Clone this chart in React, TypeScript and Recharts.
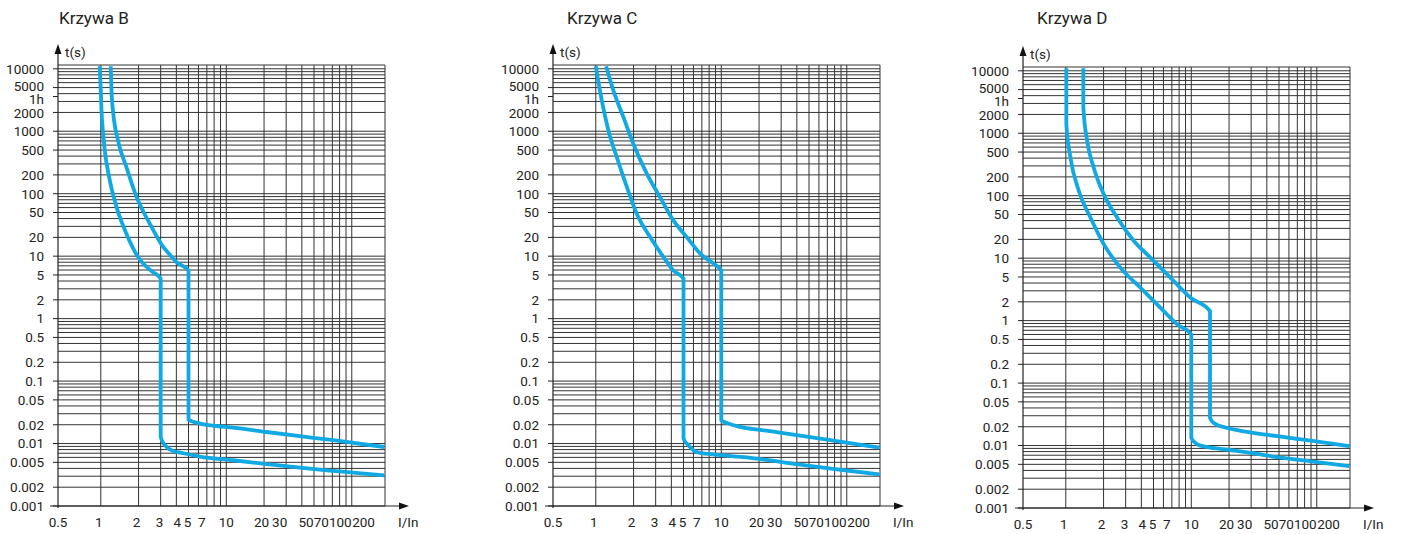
import React from "react";
import { CartesianGrid, Line, LineChart, ReferenceLine, XAxis, YAxis } from "recharts";

// Tripping curves: [I/In, t in seconds]
const B_LOW: number[][] = [
  [0.98, 11000], [1.0, 4500], [1.013, 2150], [1.04, 1000], [1.076, 493], [1.18, 163],
  [1.335, 61], [1.6, 22.9], [1.98, 9.7], [2.55, 5.7], [3.0, 4.4], [3.0, 0.0128],
  [3.24, 0.0094], [3.77, 0.0076], [4.4, 0.0071], [6.16, 0.0062], [11.4, 0.0054],
  [20.9, 0.0047], [38.6, 0.0041], [71.2, 0.00365], [182, 0.0031],
];
const B_HIGH: number[][] = [
  [1.2, 11000], [1.22, 4000], [1.25, 2150], [1.37, 713], [1.6, 267], [1.93, 88], [2.46, 33],
  [3.08, 14.9], [3.6, 10.2], [4.01, 8.05], [5.0, 5.9], [5.0, 0.0242], [6.16, 0.0209], [8.36, 0.0191],
  [11.4, 0.018], [20.9, 0.0153], [38.6, 0.0131], [71.2, 0.0113], [182, 0.0088],
];
const C_LOW: number[][] = [
  [1.0, 11000], [1.116, 3110], [1.26, 1030], [1.47, 385], [1.77, 127.5], [2.12, 47.9],
  [2.71, 20.2], [3.46, 9.7], [4.15, 5.9], [5.0, 4.4], [5.0, 0.012], [5.47, 0.0094],
  [6.38, 0.0073], [8.66, 0.0067], [16.0, 0.006], [29.4, 0.0051], [54.3, 0.0043],
  [100, 0.0037], [182, 0.0032],
];
const C_HIGH: number[][] = [
  [1.21, 11000], [1.38, 4500], [1.66, 1680], [1.99, 631], [2.55, 209], [3.25, 88],
  [4.15, 37.4], [5.31, 20.2], [6.79, 11], [8.66, 7.6], [10, 5.9], [10, 0.0236],
  [11.4, 0.0209], [14.1, 0.0185], [21.7, 0.0163], [40, 0.0136], [73.7, 0.0113], [182, 0.0086],
];
const D_LOW: number[][] = [
  [1.01, 11000], [1.01, 1400], [1.09, 406], [1.27, 119], [1.575, 44.4], [2.01, 16.6],
  [2.73, 7.0], [3.94, 3.36], [5.69, 1.6], [7.73, 0.87], [10, 0.6], [10, 0.0132],
  [11.2, 0.0104], [13.5, 0.0094], [19.4, 0.0086], [29.9, 0.0076], [48.6, 0.0065],
  [89.6, 0.0056], [182, 0.0047],
];
const D_HIGH: number[][] = [
  [1.38, 11000], [1.38, 2570], [1.48, 753], [1.67, 281], [2.01, 105], [2.57, 44.4],
  [3.49, 18.8], [4.74, 10.1], [6.84, 4.85], [9.88, 2.32], [14.1, 1.42], [14.1, 0.0277],
  [15.1, 0.023], [19.4, 0.0191], [26.3, 0.0169], [48.6, 0.0141], [89.6, 0.012], [182, 0.0098],
];

const X_TICKS = [0.5, 1, 2, 3, 4, 5, 7, 10, 20, 30, 50, 70, 100, 200];
const Y_TICKS = [
  10000, 5000, 3600, 2000, 1000, 500, 200, 100, 50, 20, 10, 5, 2, 1,
  0.5, 0.2, 0.1, 0.05, 0.02, 0.01, 0.005, 0.002, 0.001,
];

const X_MIN = 0.456;
const X_MAX = 184;
const Y_MIN = 0.001;
const Y_MAX = 11500;

// grid: every 1..9 x 10^k
const GRID_T: number[] = [];
for (let e = -3; e <= 3; e++) for (let m = 1; m <= 9; m++) GRID_T.push(+(m * Math.pow(10, e)).toPrecision(3));
GRID_T.push(10000, Y_MAX);
const GRID_I: number[] = [];
for (let e = 0; e <= 1; e++) for (let m = 1; m <= 9; m++) GRID_I.push(m * Math.pow(10, e));
GRID_I.push(100, X_MAX);

const BLUE = "#10a9e3";
const INK = "#222";
const FONT = "Roboto, 'Liberation Sans', sans-serif";

// labels in the scan sit a bit off their grid lines
const X_NUDGE: Record<number, number> = {
  0.5: -5, 1: -2, 2: -2, 3: -1, 4: 1, 5: -1, 7: -5, 20: -2.5, 30: -6.5, 50: -8, 70: -11, 100: -11.5, 200: -26,
};
const Y_NUDGE: Record<number, number> = { 5000: -1.5, 3600: 3, 2000: 1 };

const toPoints = (rows: number[][]) => rows.map(([i, t]) => ({ i, t }));

const XTick = (props: any) => {
  const { x, y, payload } = props;
  return (
    <text x={x + (X_NUDGE[payload.value] ?? 0)} y={y + 21} textAnchor="middle" fontSize={13.5} fill={INK} fontFamily={FONT}>
      {payload.value}
    </text>
  );
};

const YTick = (props: any) => {
  const { x, y, payload } = props;
  const v = payload.value;
  return (
    <text x={x} y={y + (Y_NUDGE[v] ?? 0)} dy="0.36em" textAnchor="end" fontSize={13.5} fill={INK} fontFamily={FONT}>
      {v === 3600 ? "1h" : String(v)}
    </text>
  );
};

const XArrow = (p: any) => {
  const a = Math.min(p.x1, p.x2);
  const b = Math.max(p.x1, p.x2);
  const y = p.y1;
  return (
    <g>
      <line x1={a - 8} y1={y} x2={b + 15} y2={y} stroke={INK} strokeWidth={1.2} />
      <polygon points={`${b + 24},${y} ${b + 14},${y - 3.5} ${b + 14},${y + 3.5}`} fill="#111" />
      <text x={b + 13} y={y + 21} fontSize={13.5} fill={INK} fontFamily={FONT}>I/In</text>
    </g>
  );
};

const YArrow = (p: any) => {
  const x = p.x1;
  const top = Math.min(p.y1, p.y2);
  const bot = Math.max(p.y1, p.y2);
  return (
    <g>
      <line x1={x} y1={bot + 2} x2={x} y2={top - 11} stroke={INK} strokeWidth={1.2} />
      <polygon points={`${x},${top - 21} ${x - 3.5},${top - 11} ${x + 3.5},${top - 11}`} fill="#111" />
      <text x={x + 7} y={top - 8} fontSize={13.5} fill={INK} fontFamily={FONT}>t(s)</text>
    </g>
  );
};

function TripChart({ low, high }: { low: number[][]; high: number[][] }) {
  return (
    <LineChart width={450} height={534} margin={{ top: 65, right: 65, bottom: 0, left: 8 }}>
      <CartesianGrid horizontalValues={GRID_T} verticalValues={GRID_I} stroke="#333" strokeWidth={1} />
      <XAxis
        type="number"
        dataKey="i"
        scale="log"
        domain={[X_MIN, X_MAX]}
        allowDataOverflow
        ticks={X_TICKS}
        interval={0}
        axisLine={false}
        tickLine={false}
        tickSize={0}
        tickMargin={0}
        height={28}
        tick={<XTick />}
      />
      <YAxis
        type="number"
        dataKey="t"
        scale="log"
        domain={[Y_MIN, Y_MAX]}
        allowDataOverflow
        ticks={Y_TICKS}
        interval={0}
        axisLine={false}
        tickSize={5}
        tickMargin={9}
        width={50}
        tickLine={{ stroke: INK }}
        tick={<YTick />}
      />
      <Line data={toPoints(low)} dataKey="t" type="monotone" stroke={BLUE} strokeWidth={3.8} dot={false} isAnimationActive={false} strokeLinejoin="round" />
      <Line data={toPoints(high)} dataKey="t" type="monotone" stroke={BLUE} strokeWidth={3.8} dot={false} isAnimationActive={false} strokeLinejoin="round" />
      <ReferenceLine y={Y_MIN} ifOverflow="visible" shape={XArrow} />
      <ReferenceLine x={X_MIN} ifOverflow="visible" shape={YArrow} />
    </LineChart>
  );
}

const PANELS = [
  { title: "Krzywa B", low: B_LOW, high: B_HIGH, left: 0.3, top: 0, titleX: 59 },
  { title: "Krzywa C", low: C_LOW, high: C_HIGH, left: 494.7, top: 0, titleX: 567 },
  { title: "Krzywa D", low: D_LOW, high: D_HIGH, left: 964.7, top: 1.5, titleX: 1037 },
];

export default function App() {
  return (
    <div style={{ position: "absolute", left: 0, top: 0, width: 1401, height: 534, background: "#fff", overflow: "hidden" }}>
      {PANELS.map((p) => (
        <React.Fragment key={p.title}>
          <div style={{ position: "absolute", left: p.titleX, top: 7, fontFamily: FONT, fontSize: 17, lineHeight: "22px", color: INK }}>
            {p.title}
          </div>
          <div style={{ position: "absolute", left: p.left, top: p.top }}>
            <TripChart low={p.low} high={p.high} />
          </div>
        </React.Fragment>
      ))}
    </div>
  );
}
